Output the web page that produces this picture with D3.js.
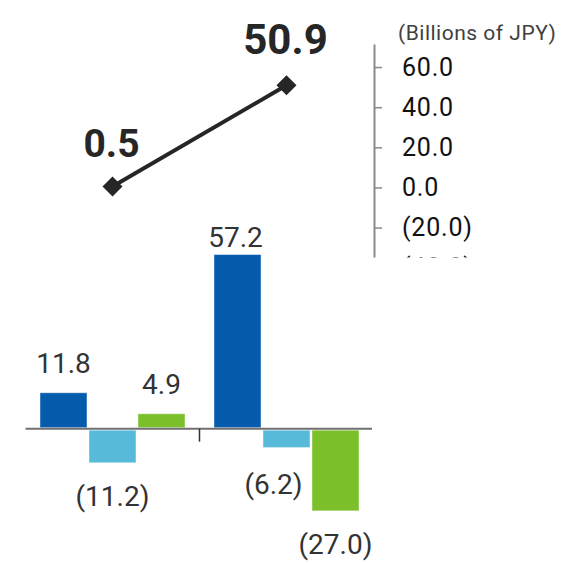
<!DOCTYPE html>
<html>
<head>
<meta charset="utf-8">
<script src="https://cdn.jsdelivr.net/npm/d3@7"></script>
<style>
  html, body { margin: 0; padding: 0; background: #fff; }
  svg { display: block; }
</style>
</head>
<body>
<svg id="chart" width="564" height="563"></svg>
<script>
// ---- data ----
const groups = ["P1", "P2"];
const seriesKeys = ["s1", "s2", "s3"];
const series1 = [11.8, 57.2];
const series2 = [-11.2, -6.2];
const series3 = [4.9, -27.0];
const lineValues = [0.5, 50.9];
const axisTicks = [60, 40, 20, 0, -20, -40];
const unitLabel = "(Billions of JPY)";

const colors = { s1: "#055BAC", s2: "#57BAD8", s3: "#7BBF2B" };
const FONT = "Roboto, 'Open Sans', sans-serif";

const rows = groups.map((g, i) => ({
  group: g,
  values: [
    { key: "s1", value: series1[i] },
    { key: "s2", value: series2[i] },
    { key: "s3", value: series3[i] }
  ]
}));

const fmt = v => v < 0 ? `(${d3.format(".1f")(-v)})` : d3.format(".1f")(v);

const svg = d3.select("#chart");

// ---- scales ----
const x0 = d3.scaleBand().domain(groups).range([25.5, 373.5]).padding(0);
const x1 = d3.scaleBand().domain(seriesKeys).range([14.5, 159.5])
  .paddingInner(0.041).paddingOuter(0);
const yBar = d3.scaleLinear().domain([-30, 60]).range([520, 246]);
const yLine = d3.scaleLinear().domain([-40, 71.5]).range([267.7, 44]);

// ---- bars ----
const gBars = svg.append("g");
const grp = gBars.selectAll("g.grp").data(rows).join("g")
  .attr("class", "grp")
  .attr("transform", d => `translate(${x0(d.group)},0)`);

grp.selectAll("rect").data(d => d.values).join("rect")
  .attr("x", d => x1(d.key))
  .attr("width", x1.bandwidth())
  .attr("y", d => d.value >= 0 ? yBar(d.value) : yBar(0) + 1.5)
  .attr("height", d => Math.abs(yBar(d.value) - yBar(0)) - (d.value >= 0 ? 1 : 1.5))
  .attr("fill", d => colors[d.key])
  .attr("stroke", "#ffffff")
  .attr("stroke-opacity", 0.45)
  .attr("stroke-width", 1);

// value labels: nudges keep labels clear of neighbouring marks
const nudge = { "P2-s1": [-2, 12], "P2-s2": [-13, 3] };
grp.selectAll("text").data(d => d.values.map(v => ({ ...v, group: d.group }))).join("text")
  .attr("x", d => x1(d.key) + x1.bandwidth() / 2 + ((nudge[d.group + "-" + d.key] || [0, 0])[0]))
  .attr("y", d => (d.value >= 0 ? yBar(d.value) - 20 : yBar(d.value) + 43)
    + ((nudge[d.group + "-" + d.key] || [0, 0])[1]))
  .attr("text-anchor", "middle")
  .attr("font-family", FONT)
  .attr("font-size", 28)
  .attr("fill", "#333")
  .text(d => fmt(d.value));

// zero line and group separator tick
svg.append("line")
  .attr("x1", x0.range()[0]).attr("x2", x0.range()[1] - 1.5)
  .attr("y1", yBar(0)).attr("y2", yBar(0))
  .attr("stroke", "#707070").attr("stroke-width", 2);
svg.append("line")
  .attr("x1", x0(groups[1])).attr("x2", x0(groups[1]))
  .attr("y1", yBar(0)).attr("y2", yBar(0) + 13)
  .attr("stroke", "#333").attr("stroke-width", 1.5);

// ---- right axis (clipped at its lower edge) ----
svg.append("defs").append("clipPath").attr("id", "axisClip")
  .append("rect").attr("x", 300).attr("y", 0).attr("width", 264).attr("height", 257.5);

const axisX = 374;
const gAxis = svg.append("g")
  .attr("clip-path", "url(#axisClip)")
  .append("g")
  .attr("transform", `translate(${axisX},0)`)
  .call(d3.axisRight(yLine).tickValues(axisTicks).tickSize(8).tickSizeOuter(0)
    .tickPadding(20).tickFormat(fmt));
gAxis.select(".domain").attr("stroke", "#8a8a8a").attr("stroke-width", 2);
gAxis.selectAll(".tick line").attr("stroke", "#8a8a8a").attr("stroke-width", 1.5);
gAxis.selectAll(".tick text")
  .attr("font-family", FONT)
  .attr("font-size", 25)
  .attr("letter-spacing", 0.8)
  .attr("fill", "#111");

svg.append("text")
  .attr("x", 398).attr("y", 40)
  .attr("font-family", FONT)
  .attr("font-size", 21)
  .attr("letter-spacing", 0.5)
  .attr("fill", "#404040")
  .text(unitLabel);

// ---- line with diamond markers ----
const linePts = groups.map((g, i) => ({ x: x0(g) + x0.bandwidth() / 2, v: lineValues[i] }));
svg.append("path")
  .datum(linePts)
  .attr("d", d3.line().x(d => d.x).y(d => yLine(d.v)))
  .attr("fill", "none")
  .attr("stroke", "#262626")
  .attr("stroke-width", 4);

svg.selectAll("path.marker").data(linePts).join("path")
  .attr("class", "marker")
  .attr("d", d3.symbol(d3.symbolSquare, 200)())
  .attr("transform", d => `translate(${d.x},${yLine(d.v)}) rotate(45)`)
  .attr("fill", "#262626");

const lineLabelSize = [39, 42];
const lineLabelLift = [29, 31];
svg.selectAll("text.lineLabel").data(linePts).join("text")
  .attr("class", "lineLabel")
  .attr("x", d => d.x - 1)
  .attr("y", (d, i) => yLine(d.v) - lineLabelLift[i])
  .attr("text-anchor", "middle")
  .attr("font-family", FONT)
  .attr("font-weight", 700)
  .attr("font-size", (d, i) => lineLabelSize[i])
  .attr("fill", "#262626")
  .text(d => fmt(d.v));
</script>
</body>
</html>
